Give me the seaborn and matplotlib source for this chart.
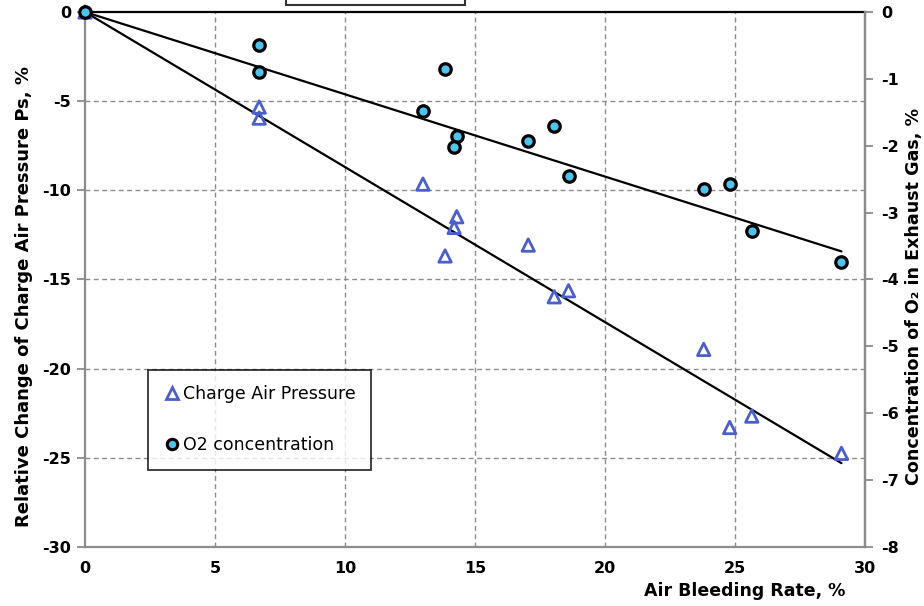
import numpy as np
import pandas as pd
import matplotlib
matplotlib.use("Agg")
import matplotlib.pyplot as plt
import seaborn as sns
from matplotlib.lines import Line2D
from matplotlib.patches import Rectangle

# --- data ---
bleed_pressure = [0, 6.7, 6.7, 13.0, 14.3, 14.2, 13.85, 17.05, 18.05, 18.6, 23.8, 24.8, 25.65, 29.1]
pressure_change = [0, -5.33, -5.95, -9.65, -11.48, -12.08, -13.68, -13.07, -15.97, -15.63, -18.92, -23.3, -22.66, -24.75]

bleed_o2 = [0, 6.7, 6.7, 13.85, 13.0, 14.3, 14.2, 17.05, 18.05, 18.6, 23.8, 24.8, 25.65, 29.1]
o2_change = [0, -0.49, -0.90, -0.85, -1.48, -1.85, -2.02, -1.93, -1.70, -2.45, -2.65, -2.57, -3.27, -3.74]

trend_x = [0, 29.1]
pressure_trend = [0, -25.3]
o2_trend = [0, -3.58]

x_ticks = [0, 5, 10, 15, 20, 25, 30]
left_ticks = [0, -5, -10, -15, -20, -25, -30]
right_ticks = [0, -1, -2, -3, -4, -5, -6, -7, -8]

sns.set_style("white")
plt.rcParams["font.family"] = ["DejaVu Sans"]
plt.rcParams["axes.unicode_minus"] = False
plt.rcParams["text.color"] = "black"
plt.rcParams["axes.labelcolor"] = "black"

tri_color = "#4a5fc9"
dot_color = "#4ec3ec"
grid_color = "#8c8c8c"

fig = plt.figure(figsize=(9.24, 6.06), dpi=100)
ax = fig.add_axes([0.092, 0.0974, 0.844, 0.8828])
ax2 = ax.twinx()

df_p = pd.DataFrame({"x": bleed_pressure, "y": pressure_change})
df_o = pd.DataFrame({"x": bleed_o2, "y": o2_change})

sns.lineplot(x=trend_x, y=pressure_trend, ax=ax, color="black", lw=1.6, zorder=3)
sns.scatterplot(data=df_p, x="x", y="y", ax=ax, marker="^", s=80,
                facecolor="none", edgecolor=tri_color, linewidth=2.0, zorder=4,
                clip_on=False)

sns.lineplot(x=trend_x, y=o2_trend, ax=ax2, color="black", lw=1.6, zorder=3)
sns.scatterplot(data=df_o, x="x", y="y", ax=ax2, marker="o", s=68,
                color=dot_color, edgecolor="black", linewidth=2.3, zorder=4,
                clip_on=False)

ax.set_xlim(0, 30)
ax.set_ylim(-30, 0)
ax2.set_ylim(-8, 0)
ax.set_xticks(x_ticks)
ax.set_yticks(left_ticks)
ax2.set_yticks(right_ticks)

# dashed grid
for v in x_ticks[1:-1]:
    ax.axvline(v, color=grid_color, ls=(0, (3.5, 2.5)), lw=1.0, zorder=1)
for v in left_ticks[1:-1]:
    ax.axhline(v, color=grid_color, ls=(0, (3.5, 2.5)), lw=1.0, zorder=1)
ax.axhline(0, color="black", lw=1.6, zorder=2, clip_on=False)

for a in (ax, ax2):
    for s in a.spines.values():
        s.set_color(grid_color)
        s.set_linewidth(1.6)
    a.spines["top"].set_visible(False)
ax2.spines["left"].set_visible(False)
ax2.spines["bottom"].set_visible(False)

ax.tick_params(axis="x", direction="inout", length=8, width=1.3, color=grid_color,
               labelcolor="black", labelsize=11.5, pad=6)
ax.tick_params(axis="y", direction="out", length=6, width=1.3, color=grid_color,
               labelcolor="black", labelsize=11.5, pad=4)
ax2.tick_params(axis="y", direction="out", length=6, width=1.3, color=grid_color,
                labelcolor="black", labelsize=11.5, pad=6)
for lab in ax.get_xticklabels() + ax.get_yticklabels() + ax2.get_yticklabels():
    lab.set_fontweight("bold")

ax.set_xlabel("Air Bleeding Rate, %", fontsize=12.5, fontweight="bold")
ax.xaxis.set_label_coords(0.975, -0.065)
ax.xaxis.label.set_horizontalalignment("right")
ax.set_ylabel("Relative Change of Charge Air Pressure Ps, %", fontsize=13,
              fontweight="bold")
ax.yaxis.set_label_coords(-0.067, 0.469)
ax2.set_ylabel("Concentration of O\u2082 in Exhaust Gas, %", fontsize=12.6,
               fontweight="bold")
ax2.yaxis.set_label_coords(1.052, 0.469)

handles = [
    Line2D([], [], ls="none", marker="^", markersize=8, markerfacecolor="none",
           markeredgecolor=tri_color, markeredgewidth=2),
    Line2D([], [], ls="none", marker="o", markersize=7.5, markerfacecolor=dot_color,
           markeredgecolor="black", markeredgewidth=2.2),
]
leg = ax2.legend(handles, ["Charge Air Pressure", "O2 concentration"],
                 loc="lower left", bbox_to_anchor=(0.081, 0.144), borderaxespad=0,
                 fontsize=12.5, frameon=True, fancybox=False, labelspacing=1.9,
                 handletextpad=0.1, handlelength=1.0, borderpad=0.9)
leg.get_frame().set_edgecolor("black")
leg.get_frame().set_linewidth(1.3)

# partially visible box at the top of the figure
fig.patches.append(Rectangle((0.309, 1 - 5 / 606), 0.194, 0.05, transform=fig.transFigure,
                             facecolor="white", edgecolor="#333333", lw=1.5))

fig.savefig("out.png", dpi=100)
